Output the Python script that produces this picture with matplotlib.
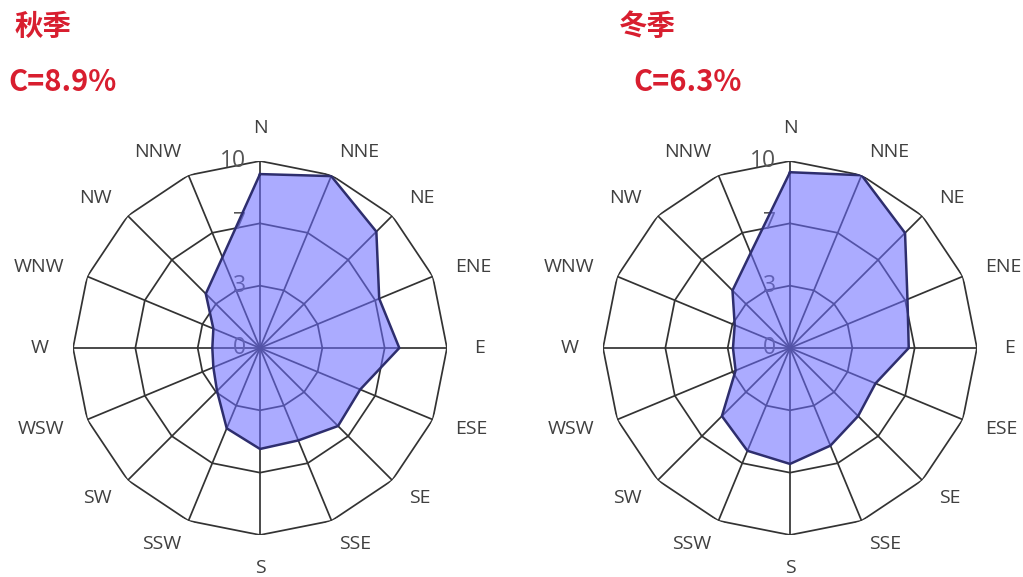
import numpy as np
import matplotlib
matplotlib.use("Agg")
import matplotlib.pyplot as plt

plt.rcParams["font.family"] = ["Open Sans", "Noto Sans CJK SC", "DejaVu Sans"]

# =============================================================================
# DATA (% frequency per direction)
# =============================================================================
DIRECTIONS = ["N", "NNE", "NE", "ENE", "E", "ESE", "SE", "SSE",
              "S", "SSW", "SW", "WSW", "W", "WNW", "NW", "NNW"]

AUTUMN = [9.3, 9.95, 8.8, 6.9, 7.45, 5.8, 5.9, 5.35,
          5.4, 4.65, 3.25, 2.7, 2.55, 2.7, 4.1, 5.25]
WINTER = [9.4, 10.0, 8.7, 6.8, 6.35, 4.95, 5.15, 5.65,
          6.2, 5.95, 5.15, 3.15, 3.05, 3.2, 4.35, 5.5]

SEASONS = ["秋季", "冬季"]
CALMS = ["C=8.9%", "C=6.3%"]

RING_VALUES = [10 / 3, 20 / 3, 10]
RING_LABELS = ["0", "3", "7", "10"]
R_MAX = 10

# =============================================================================
# STYLE
# =============================================================================
GRID_COLOR = "#333333"
FILL_COLOR = "#6b6bff"
EDGE_COLOR = "#2e2e6e"
TEXT_COLOR = "#404040"
RED = "#d81e2f"
LABEL_DIST_X = 216  # pixels from centre to direction label
LABEL_DIST_Y = 212
LABEL_DIST_CARD = 220


def draw_rose(ax, values):
    theta = np.deg2rad(np.arange(len(DIRECTIONS)) * 360 / len(DIRECTIONS))
    th_closed = np.append(theta, theta[0])

    ax.set_theta_zero_location("N")
    ax.set_theta_direction(-1)
    ax.set_ylim(0, R_MAX)
    ax.set_axis_off()

    # polygon grid rings
    for r in RING_VALUES:
        ax.plot(th_closed, [r] * len(th_closed), color=GRID_COLOR,
                lw=1.25, zorder=1)
    # spokes
    for t in theta:
        ax.plot([t, t], [0, R_MAX], color=GRID_COLOR, lw=1.25, zorder=1)

    # radial labels, left of the N spoke
    for r, lab in zip([0] + RING_VALUES, RING_LABELS):
        ax.annotate(lab, xy=(0, r), xytext=(-14, 0),
                    textcoords="offset pixels", ha="right", va="center",
                    fontsize=16.5, color="#555555", zorder=2,
                    annotation_clip=False)

    vals = np.append(values, values[0])
    ax.fill(th_closed, vals, color=FILL_COLOR, alpha=0.57, lw=0, zorder=3)
    ax.plot(th_closed, vals, color=EDGE_COLOR, lw=1.8, zorder=4)

    # direction labels: excel-like placement, boxes pushed sideways
    for t, lab in zip(theta, DIRECTIONS):
        s, c = np.sin(t), np.cos(t)
        if abs(s) < 1e-6 or abs(abs(s) - 1) < 1e-6:
            ha = "center"
            off = (LABEL_DIST_CARD * s, LABEL_DIST_CARD * c)
        elif s > 0:
            ha = "left"
            off = (LABEL_DIST_X * s - 4, LABEL_DIST_Y * c)
        else:
            ha = "right"
            off = (LABEL_DIST_X * s + 4, LABEL_DIST_Y * c)
        ax.annotate(lab, xy=(0, 0), xytext=off,
                    textcoords="offset pixels", ha=ha, va="center",
                    fontsize=14, color=TEXT_COLOR, annotation_clip=False)


fig = plt.figure(figsize=(10.23, 5.77), dpi=100)

ax_w = 374 / 1023
ax_h = 374 / 577
centers_x = [260, 790]
center_y = 348

for i, cx in enumerate(centers_x):
    ax = fig.add_axes([(cx - 187) / 1023, (577 - center_y - 187) / 577,
                       ax_w, ax_h], projection="polar")
    draw_rose(ax, AUTUMN if i == 0 else WINTER)

# titles
title_font = ["Noto Sans CJK SC"]
fig.text(15 / 1023, 1 - 27 / 577, SEASONS[0], color=RED, fontsize=20.5,
         fontweight="bold", ha="left", va="center", family=title_font)
fig.text(8 / 1023, 1 - 82 / 577, CALMS[0], color=RED, fontsize=21,
         fontweight="bold", ha="left", va="center", family=title_font)
fig.text(619 / 1023, 1 - 27 / 577, SEASONS[1], color=RED, fontsize=20.5,
         fontweight="bold", ha="left", va="center", family=title_font)
fig.text(633 / 1023, 1 - 82 / 577, CALMS[1], color=RED, fontsize=21,
         fontweight="bold", ha="left", va="center", family=title_font)

fig.savefig("out.png", dpi=100)
